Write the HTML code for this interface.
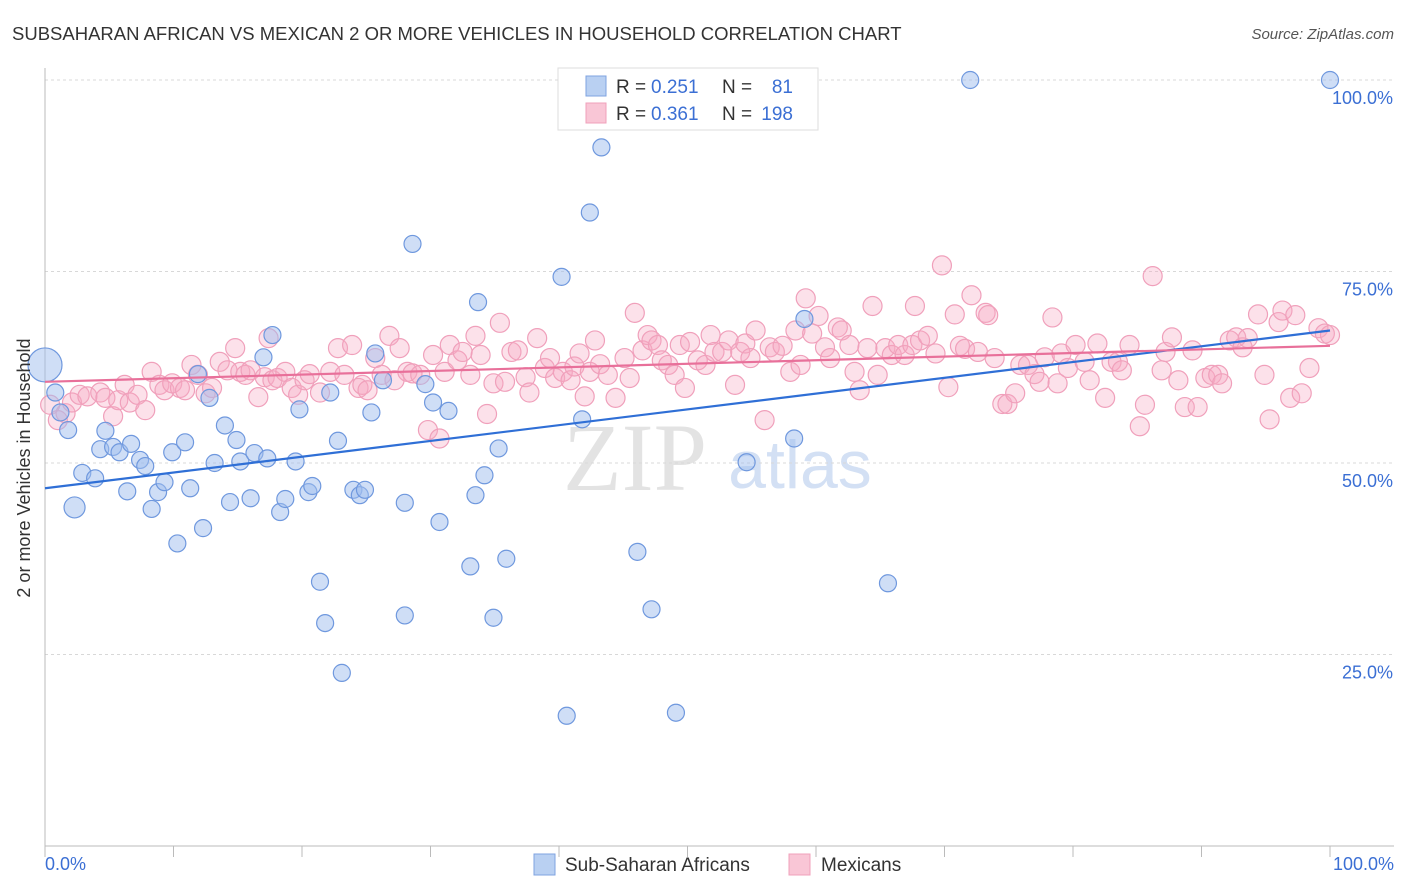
<!DOCTYPE html>
<html><head><meta charset="utf-8">
<style>
body{margin:0;background:#fff;font-family:"Liberation Sans",sans-serif;}
svg{display:block}
</style></head>
<body>
<svg id="chart" width="1406" height="892" viewBox="0 0 1406 892">
<text x="12" y="40" font-size="18.5" fill="#333">SUBSAHARAN AFRICAN VS MEXICAN 2 OR MORE VEHICLES IN HOUSEHOLD CORRELATION CHART</text>
<text x="1394" y="39" font-size="15" fill="#555" font-style="italic" text-anchor="end">Source: ZipAtlas.com</text>
<g>
<text x="635" y="490" font-size="96" fill="#e3e3e3" font-family="Liberation Serif, serif" text-anchor="middle">ZIP</text>
<text x="800" y="488" font-size="68" fill="#d3e0f4" text-anchor="middle">atlas</text>
</g>
<g id="grid"></g>
<g id="axes"></g>
<g id="pinkpts"></g>
<g id="bluepts"></g>
<g id="trends"></g>
<text x="18" y="456" font-size="18" fill="#333" text-anchor="middle" transform="rotate(-90 30 456)">2 or more Vehicles in Household</text>
<g>
<rect x="558" y="68" width="260" height="62" fill="#fff" stroke="#ddd"/>
<rect x="586" y="76" width="20" height="20" fill="#b9d0f2" stroke="#7fa3e0"/>
<rect x="586" y="103" width="20" height="20" fill="#f9c6d6" stroke="#f0a0bb"/>
<text x="616" y="93" font-size="19" fill="#333">R =</text>
<text x="651" y="93" font-size="19" fill="#3b6fd4">0.251</text>
<text x="722" y="93" font-size="19" fill="#333">N =</text>
<text x="793" y="93" font-size="19" fill="#3b6fd4" text-anchor="end">81</text>
<text x="616" y="120" font-size="19" fill="#333">R =</text>
<text x="651" y="120" font-size="19" fill="#3b6fd4">0.361</text>
<text x="722" y="120" font-size="19" fill="#333">N =</text>
<text x="793" y="120" font-size="19" fill="#3b6fd4" text-anchor="end">198</text>
</g>
<g>
<rect x="534" y="854" width="21" height="21" fill="#b9d0f2" stroke="#7fa3e0"/>
<text x="565" y="871" font-size="19" fill="#333">Sub-Saharan Africans</text>
<rect x="789" y="854" width="21" height="21" fill="#f9c6d6" stroke="#f0a0bb"/>
<text x="821" y="871" font-size="19" fill="#333">Mexicans</text>
</g>
</svg>
<script>
const yTicks=[25,50,75,100];
const yTickLabels=["25.0%","50.0%","75.0%","100.0%"];
const xTickLabels=["0.0%","100.0%"];
const blueX=[0,0.8,1.2,1.8,2.3,2.9,3.9,4.3,4.7,5.3,5.8,6.4,6.7,7.4,7.8,8.3,8.8,9.3,9.9,10.3,10.9,11.3,11.9,12.3,12.8,13.2,14.0,14.4,14.9,15.2,16.0,16.3,17.0,17.3,17.7,18.3,18.7,19.5,19.8,20.5,20.8,21.4,21.8,22.2,22.8,23.1,24.0,24.5,24.9,25.4,25.7,26.3,28.0,28.0,28.6,29.6,30.2,30.7,31.4,33.1,33.5,33.7,34.2,34.9,35.3,35.9,40.2,40.6,41.8,42.4,43.3,46.1,47.2,49.1,54.6,58.3,59.1,65.6,72.0,100];
const blueY=[62.8,59.2,56.6,54.3,44.2,48.7,48.0,51.8,54.2,52.1,51.4,46.3,52.5,50.4,49.6,44.0,46.2,47.5,51.4,39.5,52.7,46.7,61.6,41.5,58.5,50.0,54.9,44.9,53.0,50.2,45.4,51.3,63.8,50.6,66.7,43.6,45.3,50.2,57.0,46.2,47.0,34.5,29.1,59.2,52.9,22.6,46.5,45.8,46.5,56.6,64.3,60.8,44.8,30.1,78.6,60.3,57.9,42.3,56.8,36.5,45.8,71.0,48.4,29.8,51.9,37.5,74.3,17.0,55.7,82.7,91.2,38.4,30.9,17.4,50.1,53.2,68.8,34.3,100,100];
const pinkX=[0.4,1.0,1.6,2.1,2.7,3.3,4.3,4.7,5.3,5.7,6.2,6.6,7.2,7.8,8.3,8.9,9.3,9.9,10.5,10.9,11.4,11.9,12.5,13.0,13.6,14.2,14.8,15.2,15.6,16.0,16.6,17.1,17.4,17.7,18.1,18.7,19.2,19.7,20.2,20.6,21.4,22.2,22.8,23.3,23.9,24.4,24.7,25.1,25.7,26.2,26.8,27.2,27.6,28.2,28.6,29.2,29.8,30.2,30.7,31.1,31.5,32.1,32.5,33.1,33.5,33.9,34.4,34.9,35.4,35.8,36.3,36.8,37.4,37.7,38.3,38.9,39.3,39.7,40.3,40.9,41.2,41.6,42.0,42.4,42.8,43.2,43.8,44.4,45.1,45.5,45.9,46.5,46.9,47.2,47.7,48.0,48.5,49.0,49.4,49.8,50.2,50.8,51.4,51.8,52.1,52.7,53.2,53.7,54.1,54.5,54.9,55.3,56.0,56.4,56.8,57.4,58.0,58.4,58.8,59.2,59.7,60.2,60.7,61.1,61.7,62.0,62.6,63.0,63.4,64.0,64.4,64.8,65.4,65.9,66.4,66.9,67.5,67.7,68.1,68.7,69.3,69.8,70.3,70.8,71.2,71.6,72.1,72.6,73.2,73.4,73.9,74.5,74.9,75.5,75.9,76.5,77.0,77.4,77.8,78.4,78.8,79.1,79.6,80.2,80.9,81.3,81.9,82.5,83.0,83.5,83.8,84.4,85.2,85.6,86.2,86.9,87.2,87.7,88.2,88.7,89.3,89.7,90.3,90.8,91.3,91.6,92.2,92.7,93.2,93.6,94.4,94.9,95.3,96.0,96.3,96.9,97.3,97.8,98.4,99.1,99.6,100];
const pinkY=[57.6,55.6,56.5,57.9,58.9,58.7,59.2,58.5,56.1,58.2,60.2,57.9,58.9,56.9,61.9,60.2,59.5,60.4,59.8,59.5,62.8,61.5,59.1,59.8,63.2,62.1,65.0,61.9,61.5,62.1,58.6,61.2,66.3,60.8,61.1,61.9,59.8,58.9,60.8,61.6,59.2,61.9,65.0,61.5,65.4,59.8,60.2,59.5,63.7,61.5,66.6,60.8,65.0,61.9,61.7,61.5,54.3,64.1,53.2,61.9,65.4,63.4,64.5,61.5,66.6,64.1,56.4,60.4,68.3,60.6,64.5,64.7,61.2,59.2,66.3,62.4,63.7,61.1,61.9,60.8,62.6,64.3,58.7,61.9,66.0,62.9,61.5,58.5,63.7,61.1,69.6,64.7,66.7,66.0,65.4,63.4,62.8,61.5,65.4,59.8,65.8,63.4,62.8,66.7,64.5,64.5,66.0,60.2,64.5,65.6,63.7,67.3,55.6,65.1,64.5,65.3,61.9,67.3,62.8,71.5,66.9,69.2,65.1,63.7,67.7,67.3,65.4,61.9,59.5,65.0,70.5,61.5,65.0,64.1,65.4,64.1,65.4,70.5,66.0,66.6,64.3,75.8,59.9,69.4,65.3,64.9,71.9,64.5,69.6,69.3,63.7,57.7,57.7,59.1,62.8,62.8,61.6,60.6,63.8,69.0,60.4,64.3,62.4,65.4,63.2,60.8,65.6,58.5,63.2,63.2,62.1,65.4,54.8,57.6,74.4,62.1,64.5,66.4,60.8,57.3,64.7,57.3,61.1,61.5,61.5,60.4,66.0,66.4,65.1,66.3,69.4,61.5,55.7,68.4,69.9,58.5,69.3,59.1,62.4,67.6,66.9,66.7];
const blueTrend=[46.7,67.3];
const pinkTrend=[60.6,65.3];

const NS="http://www.w3.org/2000/svg";
const X0=45,X1=1330,Y0=846,Y100=80;
const sx=v=>X0+(X1-X0)*v/100;
const sy=v=>Y0-(Y0-Y100)*v/100;
function mk(tag,attrs,parent){const e=document.createElementNS(NS,tag);for(const k in attrs)e.setAttribute(k,attrs[k]);parent.appendChild(e);return e;}
const grid=document.getElementById('grid'),axes=document.getElementById('axes');
yTicks.forEach((t,i)=>{
  const l=mk('line',{x1:X0,x2:1394,y1:sy(t),y2:sy(t),stroke:'#d8d8d8','stroke-dasharray':'3,3'},grid);
  
  
  const tx=mk('text',{x:1393,y:sy(t)+24,'font-size':18,fill:'#3b6fd4','text-anchor':'end'},axes);
  tx.textContent=yTickLabels[i];
  
  
});
const ya=mk('line',{x1:X0,x2:X0,y1:68,y2:Y0,stroke:'#bbb'},axes);


const xa=mk('line',{x1:X0,x2:1394,y1:Y0,y2:Y0,stroke:'#bbb'},axes);


for(let i=0;i<=10;i++){
  const t=mk('line',{x1:sx(i*10),x2:sx(i*10),y1:Y0,y2:Y0+11,stroke:'#bbb'},axes);
  
  
}
const xl0=mk('text',{x:45,y:870,'font-size':18,fill:'#3b6fd4'},axes);xl0.textContent=xTickLabels[0];


const xl1=mk('text',{x:1394,y:870,'font-size':18,fill:'#3b6fd4','text-anchor':'end'},axes);xl1.textContent=xTickLabels[1];


const pg=document.getElementById('pinkpts');
pinkX.forEach((x,i)=>{
  const c=mk('circle',{cx:sx(x),cy:sy(pinkY[i]),r:9.5,fill:'rgba(246,170,196,0.35)',stroke:'#f0a0bb','stroke-width':1.2},pg);
  
  
});
const bg=document.getElementById('bluepts');
blueX.forEach((x,i)=>{
  const c=mk('circle',{cx:sx(x),cy:sy(blueY[i]),r:i===0?17:(i===4?10.5:8.5),fill:'rgba(160,190,238,0.5)',stroke:'#6f98de','stroke-width':1.2},bg);
  
  
});
const tg=document.getElementById('trends');
const bt=mk('line',{x1:sx(0),y1:sy(blueTrend[0]),x2:sx(100),y2:sy(blueTrend[1]),stroke:'#2f6fd6','stroke-width':2.2},tg);


const pt=mk('line',{x1:sx(0),y1:sy(pinkTrend[0]),x2:sx(100),y2:sy(pinkTrend[1]),stroke:'#e8709a','stroke-width':2.2},tg);


</script>
</body></html>
